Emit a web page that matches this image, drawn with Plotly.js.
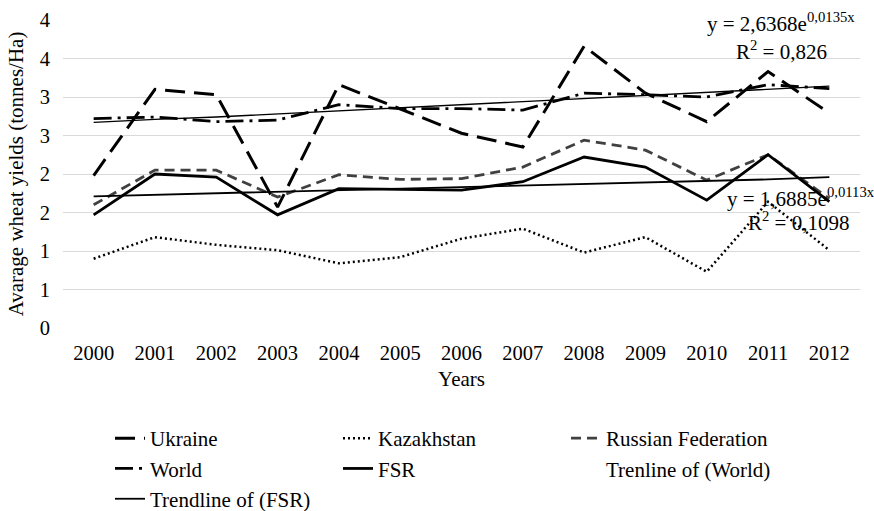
<!DOCTYPE html>
<html>
<head>
<meta charset="utf-8">
<script src="https://cdn.plot.ly/plotly-3.0.1.min.js"></script>
<style>html,body{margin:0;padding:0;background:#fff;}#chart{width:874px;height:511px;}</style>
</head>
<body>
<div id="chart"></div>
<script>
const years = ['2000','2001','2002','2003','2004','2005','2006','2007','2008','2009','2010','2011','2012'];
const ukraine    = [1.98,3.10,3.03,1.57,3.16,2.85,2.53,2.35,3.66,3.05,2.68,3.33,2.79];
const kazakhstan = [0.90,1.18,1.08,1.01,0.84,0.92,1.16,1.29,0.98,1.18,0.73,1.64,1.01];
const russia     = [1.60,2.05,2.05,1.70,1.99,1.93,1.94,2.09,2.44,2.31,1.92,2.25,1.68];
const world      = [2.72,2.74,2.68,2.70,2.90,2.85,2.85,2.83,3.05,3.03,3.00,3.16,3.11];
const fsr        = [1.47,2.00,1.96,1.47,1.81,1.80,1.79,1.90,2.22,2.09,1.66,2.25,1.64];
const worldTrend = [2.67,2.71,2.74,2.78,2.82,2.86,2.90,2.94,2.98,3.02,3.06,3.10,3.14];
const fsrTrend   = [1.71,1.73,1.75,1.77,1.79,1.81,1.83,1.85,1.87,1.89,1.91,1.93,1.96];
const yTickVals  = [0,0.5,1,1.5,2,2.5,3,3.5,4];
const yTickText  = ['0','1','1','2','2','3','3','4','4'];
const names = ['Ukraine','Kazakhstan','Russian Federation','World','FSR','Trenline of (World)','Trendline of (FSR)'];
const worldEq = 'y = 2,6368e<sup>0,0135x</sup>';
const worldR2 = 'R<sup>2</sup> = 0,826';
const fsrEq = 'y = 1,6885e<sup>0,0113x</sup>';
const fsrR2 = 'R<sup>2</sup> = 0,1098';

const F = '"Liberation Serif", "Times New Roman", serif';
const traces = [
  {x: years, y: ukraine, name: names[0], mode: 'lines', line: {color: '#000', width: 3, dash: '20px,9px'}},
  {x: years, y: kazakhstan, name: names[1], mode: 'lines', line: {color: '#000', width: 2.5, dash: '2px,3px'}},
  {x: years, y: russia, name: names[2], mode: 'lines', line: {color: '#404040', width: 2.8, dash: '10px,6px'}},
  {x: years, y: world, name: names[3], mode: 'lines', line: {color: '#000', width: 2.8, dash: '18px,6px,3px,6px'}},
  {x: years, y: fsr, name: names[4], mode: 'lines', line: {color: '#000', width: 2.8}},
  {x: [null], y: [null], name: names[5], mode: 'lines', line: {color: 'rgba(0,0,0,0)', width: 1}},
  {x: years, y: fsrTrend, name: names[6], mode: 'lines', line: {color: '#000', width: 1.8}},
  {x: years, y: worldTrend, name: names[5], mode: 'lines', showlegend: false, line: {color: '#000', width: 1.3}}
];

const layout = {
  width: 874, height: 511,
  margin: {l: 63, r: 14, t: 20, b: 183},
  paper_bgcolor: '#fff', plot_bgcolor: '#fff',
  font: {family: F, size: 21, color: '#000'},
  showlegend: true,
  xaxis: {
    type: 'category', range: [-0.5, 12.5],
    showgrid: false, zeroline: false, showline: false, ticks: '',
    tickfont: {family: F, size: 20.5, color: '#000'},
    ticklabelstandoff: 10,
    title: {text: 'Years', font: {family: F, size: 21, color: '#000'}, standoff: 8}
  },
  yaxis: {
    range: [0, 4], tickmode: 'array', tickvals: yTickVals, ticktext: yTickText,
    showgrid: true, gridcolor: '#d9d9d9', gridwidth: 1, zeroline: false, showline: false, ticks: '',
    tickfont: {family: F, size: 20.5, color: '#000'},
    ticklabelstandoff: 12,
    title: {text: 'Avarage wheat yields (tonnes/Ha)', font: {family: F, size: 21, color: '#000'}, standoff: 10}
  },
  legend: {
    orientation: 'h', xref: 'container', yref: 'container',
    x: 110/874, y: 1 - 418/511, xanchor: 'left', yanchor: 'top',
    entrywidth: 183, entrywidthmode: 'pixels',
    font: {family: F, size: 21, color: '#000'},
    bgcolor: 'rgba(0,0,0,0)', traceorder: 'normal'
  },
  annotations: [
    {xref: 'paper', yref: 'paper', x: (857-63)/797, y: (327.7-22)/307.7, xanchor: 'right', yanchor: 'middle', text: worldEq, showarrow: false, font: {family: F, size: 21, color: '#000'}},
    {xref: 'paper', yref: 'paper', x: (781-63)/797, y: (327.7-50)/307.7, xanchor: 'center', yanchor: 'middle', text: worldR2, showarrow: false, font: {family: F, size: 21, color: '#000'}},
    {xref: 'paper', yref: 'paper', x: (725-63)/797, y: (327.7-197)/307.7, xanchor: 'left', yanchor: 'middle', text: fsrEq, showarrow: false, font: {family: F, size: 21, color: '#000'}},
    {xref: 'paper', yref: 'paper', x: (798-63)/797, y: (327.7-221)/307.7, xanchor: 'center', yanchor: 'middle', text: fsrR2, showarrow: false, font: {family: F, size: 21, color: '#000'}}
  ]
};

Plotly.newPlot('chart', traces, layout, {displayModeBar: false, staticPlot: true});
</script>
</body>
</html>
